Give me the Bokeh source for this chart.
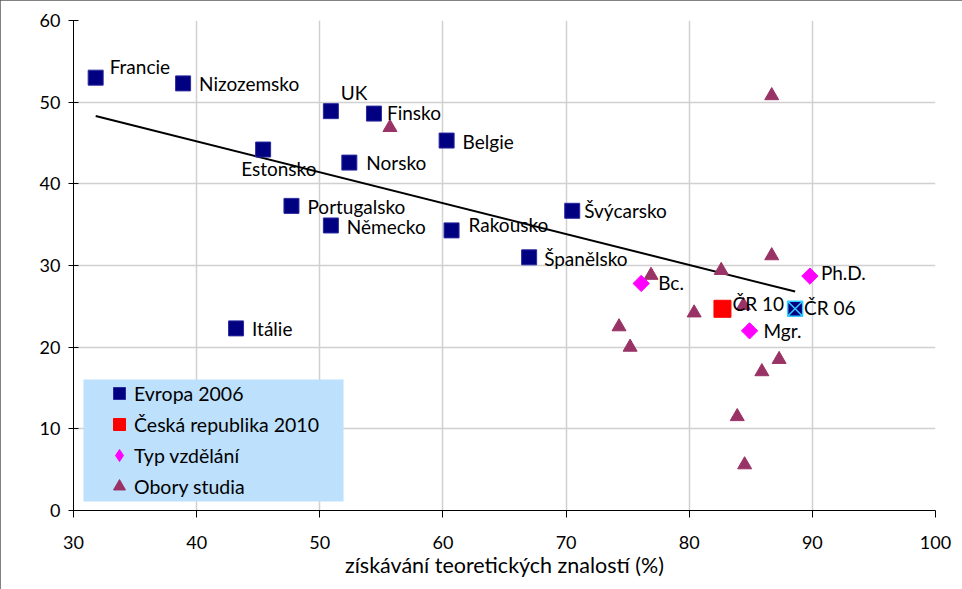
import numpy as np
from bokeh.plotting import figure
from bokeh.models import (ColumnDataSource, LabelSet, Label, Legend, LegendItem, BoxAnnotation,
                          FixedTicker)
from bokeh.core.properties import value
from bokeh.embed import file_html
from bokeh.resources import INLINE

# ---------------- data ----------------
evropa_names = ["Francie", "Nizozemsko", "UK", "Finsko", "Belgie", "Estonsko", "Norsko",
                "Portugalsko", "Švýcarsko", "Německo", "Rakousko", "Španělsko", "Itálie"]
evropa_x = [31.8, 38.9, 50.9, 54.4, 60.3, 45.4, 52.4, 47.7, 70.5, 50.9, 60.7, 67.0, 43.2]
evropa_y = [53.0, 52.3, 48.9, 48.6, 45.3, 44.2, 42.6, 37.3, 36.7, 34.9, 34.3, 31.0, 22.3]

cr06_name = ["ČR 06"]
cr06_x = [88.6]
cr06_y = [24.7]

cr10_name = ["ČR 10"]
cr10_x = [82.7]
cr10_y = [24.7]

typ_names = ["Bc.", "Mgr.", "Ph.D."]
typ_x = [76.1, 84.9, 89.8]
typ_y = [27.8, 22.0, 28.7]

obory_x = [55.7, 86.7, 76.9, 82.6, 86.7, 84.4, 80.4, 74.3, 75.2, 87.3, 85.9, 83.9, 84.5]
obory_y = [46.9, 50.8, 28.8, 29.4, 31.2, 25.1, 24.2, 22.5, 20.0, 18.5, 17.0, 11.5, 5.6]

x_ticks = [30, 40, 50, 60, 70, 80, 90, 100]
y_ticks = [0, 10, 20, 30, 40, 50, 60]

series_names = ["Evropa 2006", "Česká republika 2010", "Typ vzdělání", "Obory studia"]
x_title = "získávání teoretických znalostí (%)"
y_title = "získávání prakt. dovedn. a zkušeností (%)"

# label offsets (screen px) - styling
evropa_dx = [14, 16, 10, 13, 16, -22, 17, 16, 12, 16, 17, 15, 16]
evropa_dy = [11, 0, 19, 1, -1, -19, 0, -1, 0, -1, 6, -1, 0]
typ_dx = [17, 14, 11]
typ_dy = [1, 0, 4]

FONT = "Lato"

p = figure(width=962, height=589, output_backend="svg", toolbar_location=None,
           x_range=(30, 100), y_range=(0, 60),
           min_border_left=73, min_border_right=27, min_border_top=20, min_border_bottom=79,
           background_fill_color="white", border_fill_color="white")
p.outline_line_color = None
p.styles = {"outline": "2px solid #595959", "outline-offset": "-2px"}

# grid
for g in (p.xgrid, p.ygrid):
    g.grid_line_color = "#d0d0d0"
    g.grid_line_width = 1.5
p.xaxis.ticker = FixedTicker(ticks=x_ticks)
p.yaxis.ticker = FixedTicker(ticks=y_ticks)
p.xgrid.ticker = FixedTicker(ticks=x_ticks)
p.ygrid.ticker = FixedTicker(ticks=y_ticks)

for ax in (p.xaxis[0], p.yaxis[0]):
    ax.axis_line_color = "black"
    ax.axis_line_width = 1
    ax.major_tick_line_color = "black"
    ax.minor_tick_line_color = None
    ax.major_label_text_font = FONT
    ax.major_label_text_font_size = "18px"
    ax.major_label_text_color = "black"
    ax.axis_label_text_font = FONT
    ax.axis_label_text_font_style = "normal"
    ax.axis_label_text_color = "black"

p.xaxis.major_tick_in = 0
p.xaxis.major_tick_out = 7
p.xaxis.major_label_standoff = 18
p.xaxis.axis_label = x_title
p.xaxis.axis_label_text_font_size = "21.5px"
p.xaxis.axis_label_standoff = 0

p.yaxis.major_tick_in = 5
p.yaxis.major_tick_out = 5
p.yaxis.major_label_standoff = 8

# y-axis title (placed upward of centre, as in the original)
p.add_layout(Label(x=25.45, y=35.4, text=y_title, angle=np.pi / 2, angle_units="rad",
                   text_font=FONT, text_font_size="18.5px", text_color="black",
                   text_align="center", text_baseline="middle"))

# trend line (linear regression over European 2006 data incl. ČR 06)
all_x = np.array(evropa_x + cr06_x)
all_y = np.array(evropa_y + cr06_y)
k, q = np.polyfit(all_x, all_y, 1)
tx = np.array([all_x.min(), all_x.max()])
p.line(tx, k * tx + q, line_color="black", line_width=2)

# points
src_ev = ColumnDataSource(dict(x=evropa_x, y=evropa_y, name=evropa_names, dx=evropa_dx, dy=evropa_dy))
r_ev = p.scatter("x", "y", source=src_ev, marker="square", size=15,
                 fill_color="#000080", line_color="#2a2aa0", line_width=1)

r_ob = p.scatter(obory_x, obory_y, marker="triangle", size=14,
                 fill_color="#993366", line_color="#993366")

src_cr10 = ColumnDataSource(dict(x=cr10_x, y=cr10_y, name=cr10_name))
r_cr10 = p.scatter("x", "y", source=src_cr10, marker="square", size=17,
                   fill_color="#ff0000", line_color="#ff0000")

src_cr06 = ColumnDataSource(dict(x=cr06_x, y=cr06_y, name=cr06_name))
p.scatter("x", "y", source=src_cr06, marker="square_x", size=15,
          fill_color="#000080", line_color="#33ccff", line_width=1.5)

src_typ = ColumnDataSource(dict(x=typ_x, y=typ_y, name=typ_names, dx=typ_dx, dy=typ_dy))
p.scatter("x", "y", source=src_typ, marker="square", size=11.5, angle=np.pi / 4,
          fill_color="#ff00ff", line_color="#ff00ff")
# legend-only glyph for the diamond series (legend ignores marker angle); NaN = not drawn in plot
r_typ_leg = p.scatter(x=[np.nan], y=[np.nan], marker="diamond", size=12,
                      fill_color="#ff00ff", line_color="#ff00ff")

# labels
lab_kw = dict(text_font=value(FONT), text_font_size="19px", text_color="black",
              text_align="left", text_baseline="middle")
p.add_layout(LabelSet(x="x", y="y", text="name", source=src_ev,
                      x_offset="dx", y_offset="dy", **lab_kw))
p.add_layout(LabelSet(x="x", y="y", text="name", source=src_typ,
                      x_offset="dx", y_offset="dy", **lab_kw))
p.add_layout(LabelSet(x="x", y="y", text="name", source=src_cr10,
                      x_offset=10, y_offset=5, **lab_kw))
p.add_layout(LabelSet(x="x", y="y", text="name", source=src_cr06,
                      x_offset=9, y_offset=1, **lab_kw))

# legend background box
box = BoxAnnotation(left=30.81, right=51.93, bottom=1.10, top=16.04,
                    fill_color="#bde0fc", fill_alpha=1.0, line_color=None, level="underlay")
p.add_layout(box)

legend = Legend(items=[
    LegendItem(label=series_names[0], renderers=[r_ev]),
    LegendItem(label=series_names[1], renderers=[r_cr10]),
    LegendItem(label=series_names[2], renderers=[r_typ_leg]),
    LegendItem(label=series_names[3], renderers=[r_ob]),
], location=(31, 9), background_fill_alpha=0, border_line_color=None,
    padding=0, margin=0, spacing=1, glyph_width=30, glyph_height=30,
    label_height=30, label_standoff=-6,
    label_text_font=FONT, label_text_font_size="19.5px", label_text_color="black")
p.add_layout(legend)

open("out.html", "w").write(file_html(p, INLINE))
